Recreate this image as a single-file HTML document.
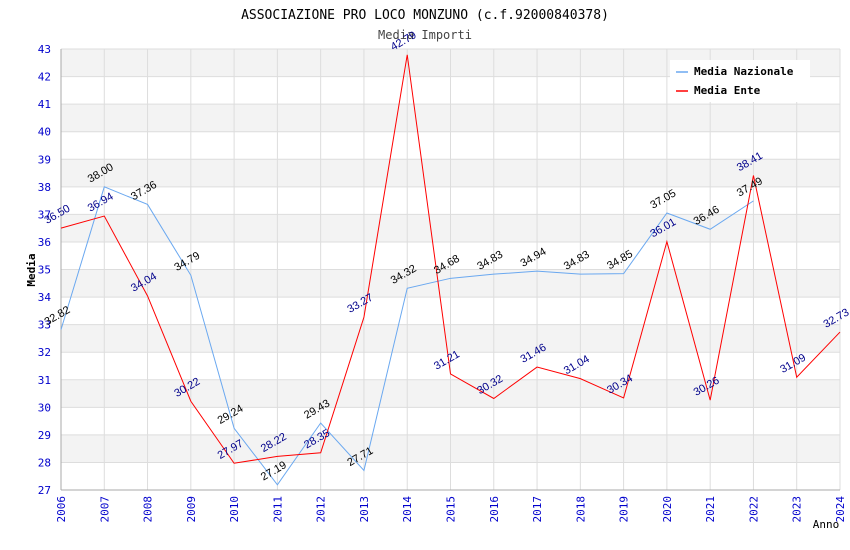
<!DOCTYPE html>
<html><head><meta charset="utf-8"><style>
body{margin:0;background:#fff;}
svg{display:block;font-family:"DejaVu Sans Mono","Liberation Mono",monospace;}
</style></head><body>
<svg id="chart" width="850" height="550">
<text x="425" y="19" text-anchor="middle" font-size="13" fill="#000">ASSOCIAZIONE PRO LOCO MONZUNO (c.f.92000840378)</text>
<text x="425" y="39" text-anchor="middle" font-size="12" fill="#444">Media Importi</text>
<g id="bands"></g><g id="axes"></g><g id="series"></g><g id="labels"></g>
<text x="35" y="270" text-anchor="middle" font-size="11" font-weight="bold" transform="rotate(-90 35 270)">Media</text>
<text x="826" y="528" text-anchor="middle" font-size="11" fill="#000">Anno</text>
<g>
<rect x="670" y="60" width="140" height="42" fill="#fff"/>
<line x1="676" y1="72" x2="688" y2="72" stroke="#6aa8f0" stroke-width="1.5"/>
<text x="694" y="75" font-size="11" font-weight="bold">Media Nazionale</text>
<line x1="676" y1="91" x2="688" y2="91" stroke="#f00" stroke-width="1.5"/>
<text x="694" y="94" font-size="11" font-weight="bold">Media Ente</text>
</g>
</svg>
<script>
const years=[2006,2007,2008,2009,2010,2011,2012,2013,2014,2015,2016,2017,2018,2019,2020,2021,2022,2023,2024];
const nazionale=[32.82,38.00,37.36,34.79,29.24,27.19,29.43,27.71,34.32,34.68,34.83,34.94,34.83,34.85,37.05,36.46,37.49];
const ente=[36.50,36.94,34.04,30.22,27.97,28.22,28.35,33.27,42.79,31.21,30.32,31.46,31.04,30.34,36.01,30.26,38.41,31.09,32.73];
const yTicks=[27,28,29,30,31,32,33,34,35,36,37,38,39,40,41,42,43];
const X0=61,X1=840,Y0=490,Y1=49,YMIN=27,YMAX=43;
const xs=i=>X0+(X1-X0)*i/(years.length-1);
const ys=v=>Y0-(Y0-Y1)*(v-YMIN)/(YMAX-YMIN);
const NS="http://www.w3.org/2000/svg";
function mk(t,a,p){const e=document.createElementNS(NS,t);for(const k in a)e.setAttribute(k,a[k]);p.appendChild(e);return e;}
const bands=document.getElementById('bands'),axes=document.getElementById('axes'),ser=document.getElementById('series'),lab=document.getElementById('labels');
for(let i=0;i<yTicks.length-1;i++){
 const r=mk('rect',{x:X0,y:ys(yTicks[i+1]),width:X1-X0,height:ys(yTicks[i])-ys(yTicks[i+1]),fill:(i%2==1)?'#f3f3f3':'#fff'},bands);
 
 
}
yTicks.forEach(v=>{
 const l=mk('line',{x1:X0,x2:X1,y1:ys(v),y2:ys(v),stroke:'#ddd','stroke-width':1},axes);
 
 
 const t=mk('text',{x:X0-10,y:ys(v)+4,'text-anchor':'end','font-size':11,fill:'#00c'},axes);
 t.textContent=v;
 
 
});
years.forEach((y,i)=>{
 const l=mk('line',{x1:xs(i),x2:xs(i),y1:Y1,y2:Y0,stroke:'#ddd','stroke-width':1},axes);
 
 
 const t=mk('text',{x:xs(i)+4,y:Y0+6,'text-anchor':'end','font-size':11,fill:'#00c',transform:`rotate(-90 ${xs(i)+4} ${Y0+6})`},axes);
 t.textContent=y;
 
 
});
const ax=mk('line',{x1:X0,x2:X0,y1:Y1,y2:Y0,stroke:'#aaa'},axes);


const bx=mk('line',{x1:X0,x2:X1,y1:Y0,y2:Y0,stroke:'#aaa'},axes);


function draw(arr,color,lc,name){
 const p=mk('polyline',{points:arr.map((v,i)=>xs(i)+','+ys(v)).join(' '),fill:'none',stroke:color,'stroke-width':1},ser);
 
 
 arr.forEach((v,i)=>{
  const x=xs(i)-14,y=ys(v)-4;
  const t=mk('text',{x:x,y:y,'font-size':11,fill:lc,'font-family':'Liberation Sans, sans-serif',transform:`rotate(-30 ${x} ${y})`},lab);
  t.textContent=v.toFixed(2);
  
  
 });
}
draw(nazionale,'#6aa8f0','#000','nazionale');
draw(ente,'#f00','#00008b','ente');
</script>
</body></html>
